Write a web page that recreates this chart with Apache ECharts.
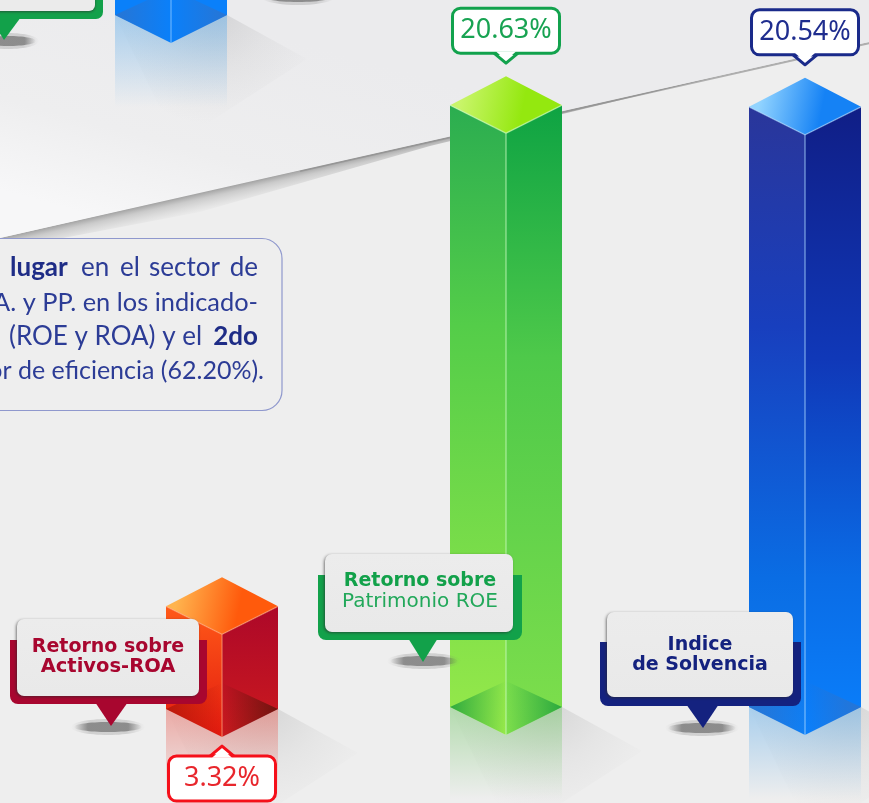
<!DOCTYPE html>
<html>
<head>
<meta charset="utf-8">
<style>html,body{margin:0;padding:0;background:#eeeeee;overflow:hidden}#c{width:869px;height:803px;filter:blur(0.45px)}</style>
<script src="https://cdn.jsdelivr.net/npm/echarts@6/dist/echarts.min.js"></script>
</head>
<body>
<div id="c"></div>
<script>
var categories = ['Retorno sobre Activos-ROA', 'Retorno sobre Patrimonio ROE', 'Indice de Solvencia'];
var values = [3.32, 20.63, 20.54];
var labelFirstLine = ['Retorno sobre', 'Retorno sobre', 'Indice'];
var labelSecondLine = ['Activos-ROA', 'Patrimonio ROE', 'de Solvencia'];
var croppedBarBase = 24.0;   // bar cut off by the top of the picture
var croppedBarTop = 27.0;
var noteLines = [
  [['lugar', 10, 'b'], ['en', 81], ['el', 120], ['sector', 149], ['de', 258, 'r']],
  [['A. y PP. en los indicado-', 258, 'r']],
  [['(ROE y ROA) y el', 9], ['2do', 258, 'br']],
  [['or de eficiencia (62.20%).', 264, 'r']]
];

var G = echarts.graphic;
function stopsOf(stops) { return stops.map(function (s) { return { offset: s[0], color: s[1] }; }); }
function lin(x0, y0, x1, y1, stops, global) {
  return new G.LinearGradient(x0, y0, x1, y1, stopsOf(stops), global);
}
function zeroAlpha(c) { return c.replace(/[\d.]+\)$/, '0)'); }
var palettes = [
  { top: ['#ffb44e', '#ff5a0c'], left: [[0, '#ff5a18'], [1, '#e2190f']], right: [[0, '#ad0829'], [1, '#cc1a1e']],
    floorL: 'rgba(170,20,10,0.75)', floorR: 'rgba(90,20,10,0.8)', edge: 'rgba(255,170,130,0.55)', refl: 'rgba(232,95,85,0.48)' },
  { top: ['#c9f56a', '#94e80f'], left: [[0, '#2bad50'], [0.35, '#54cd49'], [1, '#97e94a']], right: [[0, '#0ea343'], [0.4, '#4ec94a'], [1, '#7fdf4c']],
    floorL: 'rgba(30,160,60,0.85)', floorR: 'rgba(30,160,60,0.85)', edge: 'rgba(200,250,190,0.6)', refl: 'rgba(120,200,110,0.5)' },
  { top: ['#92d4ff', '#1582f5'], left: [[0, '#2a369a'], [0.35, '#183fbe'], [0.75, '#0a6de4'], [1, '#1080f5']], right: [[0, '#101e86'], [0.4, '#1038b8'], [0.75, '#0a6ce6'], [1, '#0a80fc']],
    floorL: 'rgba(45,115,205,0.85)', floorR: 'rgba(45,115,205,0.85)', edge: 'rgba(170,215,255,0.6)', refl: 'rgba(100,175,235,0.5)' },
  { top: ['#0a82fa', '#0a82fa'], left: [[0, '#0a80fa'], [1, '#0a80fa']], right: [[0, '#0a80fa'], [1, '#0a80fa']],
    floorL: 'rgba(45,115,205,0.85)', floorR: 'rgba(45,115,205,0.85)', edge: 'rgba(170,215,255,0.5)', refl: 'rgba(100,175,235,0.5)' }
];
// drawing offsets per bar (the axis spaces categories evenly, the picture does not)
var barDx = [0, -7.5, 0, -51];
var topDy = [2, 0, -1, 0];
var baseDy = [2, 0, 0, 0];
var valueColors = [
  { stroke: '#f5101a', text: '#e8262c' },
  { stroke: '#12a24d', text: '#18a352' },
  { stroke: '#1a2a8a', text: '#1f2d8e' }
];
var calloutLayout = [
  { card: [17, 619, 182, 77], base: [10, 640, 197, 64], ptr: [95, 128, 111, 726], sh: [108, 727], text: [108, 647, 667], col: '#a8062f', light: '#a8062f', weight2: 'bold' },
  { card: [325, 554, 188, 78], base: [318, 575, 204, 65], ptr: [408, 438, 423, 662], sh: [424, 661], text: [420, 581, 602], col: '#12a14a', light: '#22a85a', weight2: 'normal' },
  { card: [607, 612, 186, 85], base: [600, 642, 201, 64], ptr: [686, 719, 703, 728], sh: [702, 728], text: [700, 645, 665], col: '#14227f', light: '#14227f', weight2: 'bold' }
];
var FONT_LABEL = '"DejaVu Sans"';

function poly(pts, fill, extra) {
  var st = { fill: fill };
  if (extra) for (var k in extra) st[k] = extra[k];
  return { type: 'polygon', shape: { points: pts }, style: st };
}
function groundShadow(cx, cy, rx) {
  return [
    { type: 'ellipse', shape: { cx: cx, cy: cy, rx: rx + 3, ry: 8 }, style: { fill: lin(0, 0, 1, 0, [[0, 'rgba(120,120,120,0)'], [0.25, 'rgba(120,120,120,0.25)'], [0.75, 'rgba(120,120,120,0.25)'], [1, 'rgba(120,120,120,0)']]) } },
    { type: 'ellipse', shape: { cx: cx, cy: cy, rx: rx, ry: 5 }, style: { fill: lin(0, 0, 1, 0, [[0, 'rgba(85,85,85,0)'], [0.2, 'rgba(85,85,85,0.55)'], [0.8, 'rgba(85,85,85,0.55)'], [1, 'rgba(85,85,85,0)']]) } }
  ];
}

function renderBar(params, api) {
  var i = params.dataIndex, p = palettes[i];
  var topPt = api.coord([api.value(0), api.value(1)]);
  var basePt = api.coord([api.value(0), api.value(2)]);
  var cx = topPt[0] + barDx[i], fy = topPt[1] + topDy[i], by = basePt[1] + 7 + baseDy[i];
  var L = cx - 56, R = cx + 56, ch = [];
  // cast shadow, fading out from the bar's base
  ch.push(poly([[L, by - 28], [R, by - 28], [R + 80, by + 16], [cx + 6, by + 100]],
    new G.RadialGradient(R - 12, by - 30, 112, stopsOf([[0, 'rgba(105,105,105,0.18)'], [0.5, 'rgba(120,120,120,0.075)'], [1, 'rgba(135,135,135,0)']]), true)));
  // reflection
  ch.push(poly([[L, by - 28], [cx, by], [R, by - 28], [R, by + 64], [L, by + 64]],
    lin(0, 0, 0, 1, [[0, p.refl], [1, zeroAlpha(p.refl)]])));
  // faces
  ch.push(poly([[L, fy - 28], [cx, fy], [cx, by], [L, by - 28]], lin(0, 0, 0, 1, p.left)));
  ch.push(poly([[R, fy - 28], [cx, fy], [cx, by], [R, by - 28]], lin(0, 0, 0, 1, p.right)));
  // floor seen through the glass
  ch.push(poly([[L, by - 28], [cx, by - 54], [cx, by]], lin(0, 0, 1, 0, [[0, p.floorL], [1, zeroAlpha(p.floorL)]])));
  ch.push(poly([[R, by - 28], [cx, by - 54], [cx, by]], lin(1, 0, 0, 0, [[0, p.floorR], [1, zeroAlpha(p.floorR)]])));
  // top
  ch.push(poly([[cx, fy - 57], [R, fy - 28], [cx, fy], [L, fy - 28]], lin(0, 0.3, 1, 0.7, [[0.1, p.top[0]], [0.65, p.top[1]]])));
  // edges
  ch.push({ type: 'polyline', shape: { points: [[L, fy - 28], [cx, fy], [R, fy - 28]] }, style: { stroke: p.edge, lineWidth: 1.4, fill: null } });
  ch.push({ type: 'line', shape: { x1: cx, y1: fy, x2: cx, y2: by }, style: { stroke: p.edge, lineWidth: 1.4 } });
  // value tag
  if (i < 3) {
    var c = valueColors[i], below = i === 0;
    var tip = below ? by + 9 : fy - 70, dir = below ? 1 : -1;
    var boxH = 45, boxW = 107, near = tip + dir * 10;
    var boxY = below ? near : near - boxH;
    ch.push(poly([[cx - 12, near], [cx, tip], [cx + 12, near]], '#fff', { stroke: c.stroke, lineWidth: 3, lineJoin: 'round' }));
    ch.push({ type: 'rect', shape: { x: cx - boxW / 2, y: boxY, width: boxW, height: boxH, r: 8 }, style: { fill: '#fff', stroke: c.stroke, lineWidth: 3 } });
    ch.push(poly([[cx - 10, near + dir * 1.8], [cx + 10, near + dir * 1.8], [cx, tip + dir * 3]], '#fff'));
    ch.push({ type: 'text', style: { text: api.value(1).toFixed(2) + '%', x: cx, y: boxY + boxH / 2, textAlign: 'center', textVerticalAlign: 'middle', font: '27px "Noto Sans"', fill: c.text } });
  }
  return { type: 'group', children: ch };
}

function renderCallout(params, api) {
  var i = params.dataIndex, c = calloutLayout[i], ch = groundShadow(c.sh[0], c.sh[1], 34);
  ch.push(poly([[c.ptr[0], c.base[1] + c.base[3] - 2], [c.ptr[1], c.base[1] + c.base[3] - 2], [c.ptr[2], c.ptr[3]]], c.col));
  ch.push({ type: 'rect', shape: { x: c.base[0], y: c.base[1], width: c.base[2], height: c.base[3], r: [0, 0, 8, 8] }, style: { fill: c.col } });
  ch.push({ type: 'rect', shape: { x: c.card[0], y: c.card[1], width: c.card[2], height: c.card[3], r: 7 },
    style: { fill: lin(0, 0, 0, 1, [[0, '#ececec'], [1, '#e9e9e9']]), shadowBlur: 3, shadowOffsetY: 1, shadowOffsetX: -1, shadowColor: 'rgba(40,40,40,0.6)' } });
  ch.push({ type: 'text', style: { text: labelFirstLine[i], x: c.text[0], y: c.text[1], textAlign: 'center', textVerticalAlign: 'middle', font: 'bold 19px ' + FONT_LABEL, fill: c.col } });
  ch.push({ type: 'text', style: { text: labelSecondLine[i], x: c.text[0], y: c.text[2], textAlign: 'center', textVerticalAlign: 'middle', font: c.weight2 + ' ' + (i === 0 ? 19.5 : i === 1 ? 20 : 19) + 'px ' + FONT_LABEL, fill: c.light } });
  return { type: 'group', children: ch };
}

var lineY = [268, 303, 337, 371];
var lineSize = [26, 25.4, 26, 25];
var noteEls = [];
noteLines.forEach(function (line, li) {
  line.forEach(function (w) {
    var flags = w[2] || '', bold = flags.indexOf('b') >= 0;
    noteEls.push({ type: 'text', style: {
      text: w[0], x: w[1], y: lineY[li],
      textAlign: flags.indexOf('r') >= 0 ? 'right' : 'left', textVerticalAlign: 'middle',
      font: (bold ? 'bold ' : '') + lineSize[li] + 'px Lato', fill: bold ? '#1e2c86' : '#2c3c96' } });
  });
});

var backdrop = [
  { type: 'rect', shape: { x: 0, y: 0, width: 869, height: 803 }, style: { fill: '#eeeeee' } },
  { type: 'polygon', shape: { points: [[0, 238], [200, 192], [430, 141], [720, 76], [430, 146], [200, 212], [0, 250]] },
    style: { fill: lin(150, 204, 154.5, 224, [[0, 'rgba(110,110,110,0.6)'], [0.3, 'rgba(135,135,135,0.34)'], [1, 'rgba(170,170,170,0)']], true) } },
  { type: 'line', shape: { x1: 300, y1: 171, x2: 869, y2: 43 }, style: { stroke: 'rgba(140,140,140,0.65)', lineWidth: 2.2 } },
  { type: 'polygon', shape: { points: [[0, 0], [869, 0], [869, 42], [0, 238]] },
    style: { fill: lin(150, 0, 90, 215, [[0, '#ebebed'], [0.6, '#eeeeef'], [1, '#f7f7f8']], true) } }
  // callout cut off at the top-left corner follows
].concat(groundShadow(8, 41, 28)).concat([
  { type: 'polygon', shape: { points: [[-10, 17], [21, 17], [4, 40]] }, style: { fill: '#12a14a' } },
  { type: 'rect', shape: { x: -20, y: -20, width: 123, height: 39, r: 7 }, style: { fill: '#12a14a' } },
  { type: 'rect', shape: { x: -20, y: -20, width: 115, height: 31, r: 6 }, style: { fill: '#ebebeb', shadowBlur: 3, shadowOffsetY: 1, shadowColor: 'rgba(40,40,40,0.6)' } }
]).concat(groundShadow(298, -3, 34)).concat([
  // note panel
  { type: 'rect', shape: { x: -40, y: 238.5, width: 322, height: 172, r: 20 }, style: { fill: '#eeeeee', stroke: '#8f98cd', lineWidth: 1.2 } }
]).concat(noteEls);

var barData = categories.map(function (c, i) { return [i, values[i], 0]; });
barData.push([0, croppedBarTop, croppedBarBase]);
var calloutData = categories.map(function (c, i) { return [i, values[i]]; });

var chart = echarts.init(document.getElementById('c'), null, { renderer: 'canvas' });
chart.setOption({
  animation: false,
  backgroundColor: '#eeeeee',
  graphic: { elements: backdrop },
  grid: { left: 222, right: 64, top: 0, bottom: 0, containLabel: false },
  xAxis: { type: 'category', data: categories, boundaryGap: false, show: false },
  yAxis: { type: 'value', min: -2.6, max: 25.25, show: false },
  series: [
    { type: 'custom', coordinateSystem: 'cartesian2d', renderItem: renderBar, data: barData, z: 2, clip: false, silent: true },
    { type: 'custom', coordinateSystem: 'cartesian2d', renderItem: renderCallout, data: calloutData, z: 3, clip: false, silent: true }
  ]
});
</script>
</body>
</html>
